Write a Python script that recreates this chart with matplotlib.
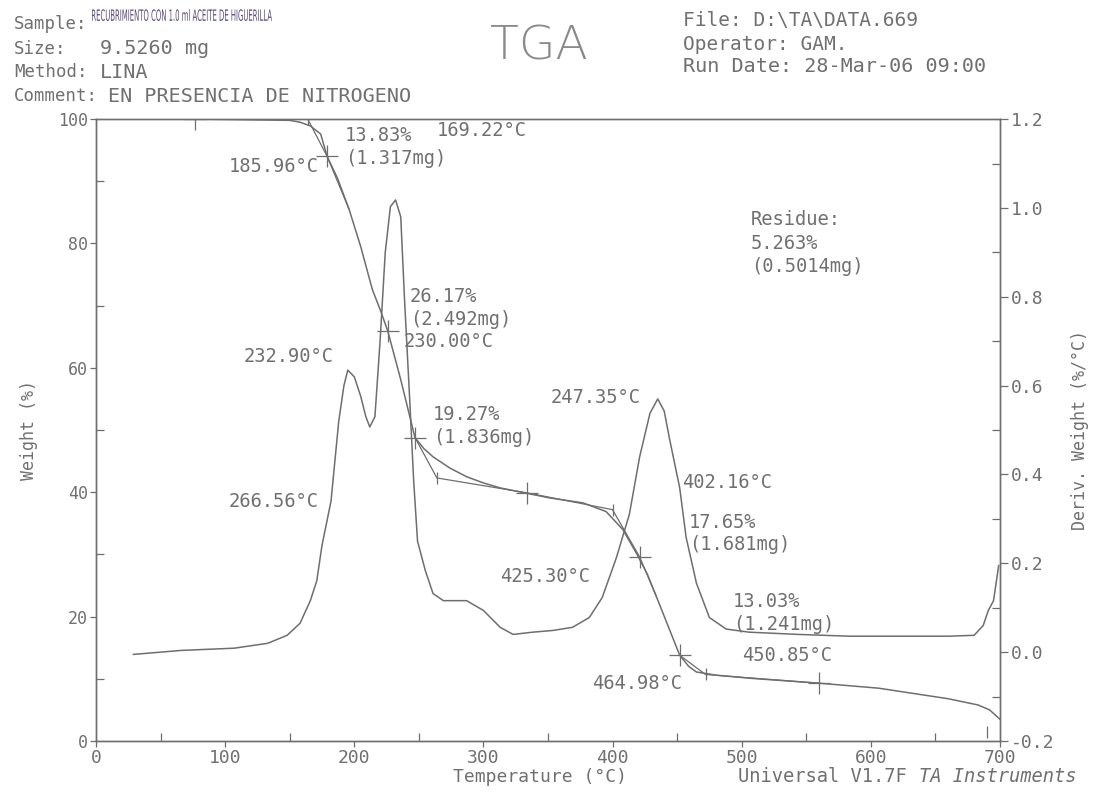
import matplotlib
matplotlib.use("Agg")
import matplotlib.pyplot as plt
from matplotlib.ticker import MultipleLocator, FormatStrFormatter
from matplotlib.textpath import TextPath
from matplotlib.font_manager import FontProperties
from matplotlib.patches import PathPatch
from matplotlib.transforms import Affine2D

# -----------------------------------
# data
# -----------------------------------
temp_w = [30, 81, 150, 158, 166, 174, 179, 187, 196, 205, 214, 220, 226, 236,
          247, 254, 261, 274, 287, 300, 313, 332, 351, 377, 395, 408, 419, 427,
          434, 443, 452, 459, 465, 480, 506, 560, 606, 660, 683, 692, 700]
weight = [100.0, 100.0, 99.8, 99.5, 98.9, 97.6, 94.0, 90.5, 85.5, 79.5, 72.6,
          69.4, 65.9, 58.1, 48.8, 47.0, 45.7, 43.9, 42.5, 41.5, 40.7, 39.9,
          39.1, 38.3, 36.9, 34.0, 30.0, 26.8, 23.2, 18.5, 13.8, 12.0, 11.1,
          10.6, 10.1, 9.3, 8.5, 6.8, 5.8, 5.0, 3.5]

temp_d = [29, 66, 107, 133, 148, 158, 166, 171, 175, 182, 188, 192, 195, 200,
          205, 209, 212, 216, 220, 224, 228, 232, 236, 239, 243, 246, 249, 255,
          261, 269, 278, 287, 300, 313, 323, 338, 354, 369, 382, 392, 403, 413,
          421, 429, 435, 440, 444, 452, 457, 465, 475, 488, 506, 544, 583, 622,
          660, 680, 687, 691, 695, 699]
deriv = [-0.005, 0.004, 0.009, 0.020, 0.038, 0.065, 0.116, 0.161, 0.24, 0.34,
         0.52, 0.60, 0.635, 0.62, 0.576, 0.53, 0.507, 0.53, 0.70, 0.90, 1.003,
         1.018, 0.98, 0.79, 0.565, 0.386, 0.25, 0.184, 0.132, 0.116, 0.116,
         0.116, 0.094, 0.056, 0.040, 0.045, 0.049, 0.056, 0.078, 0.123, 0.213,
         0.31, 0.44, 0.538, 0.57, 0.543, 0.482, 0.37, 0.258, 0.155, 0.078,
         0.052, 0.045, 0.040, 0.036, 0.036, 0.036, 0.038, 0.060, 0.094, 0.116,
         0.195]

# onset construction (tangent) lines: (T, weight) pairs
tangents = [
    [(77, 100), (164, 100), (179, 94.0), (196, 85.5)],
    [(247, 48.8), (264, 42.3), (334, 39.9)],
    [(334, 39.9), (400, 37.2), (421, 29.6), (434, 23.2)],
    [(452, 13.8), (472, 10.7), (560, 9.3)],
]
tick_ends = [(164, 100), (264, 42.3), (400, 37.2), (472, 10.7), (690, 1.5)]
crosses = [(77, 100), (179, 94.0), (226, 65.9), (247, 48.8), (334, 39.9),
           (421, 29.6), (452, 13.8), (560, 9.3)]

# annotation strings and positions (T, weight-axis)
labels = [
    ("13.83%", 193, 97.3), ("(1.317mg)", 193, 93.6), ("169.22°C", 264, 98.2),
    ("185.96°C", 103, 92.4), ("26.17%", 243, 71.5), ("(2.492mg)", 243, 67.8),
    ("230.00°C", 238, 64.3), ("232.90°C", 114, 61.8), ("19.27%", 261, 52.5),
    ("(1.836mg)", 261, 48.8), ("247.35°C", 352, 55.2), ("266.56°C", 103, 38.5),
    ("402.16°C", 454, 41.5), ("17.65%", 459, 35.1), ("(1.681mg)", 459, 31.6),
    ("425.30°C", 313, 26.4), ("13.03%", 493, 22.4), ("(1.241mg)", 493, 18.8),
    ("450.85°C", 500, 13.8), ("464.98°C", 384, 9.2),
    ("Residue:", 507, 83.9), ("5.263%", 507, 80.0), ("(0.5014mg)", 507, 76.3),
]

GRAY = "#6e6e6e"
TXT = "#707070"
MONO = "DejaVu Sans Mono"
W, H = 1103, 794

fig = plt.figure(figsize=(11.03, 7.94), dpi=100)
ax = fig.add_axes([0.087, 0.0667, 0.8196, 0.7833])
ax2 = ax.twinx()

ax.plot(temp_w, weight, color=GRAY, lw=1.1)
ax2.plot(temp_d, deriv, color=GRAY, lw=1.1)

for seg in tangents:
    xs, ys = zip(*seg)
    ax.plot(xs, ys, color=GRAY, lw=0.9)
ax.plot(*zip(*crosses), ls="none", marker="+", ms=16, mew=0.9, color=GRAY)
ax.plot(*zip(*tick_ends), ls="none", marker="|", ms=9, mew=0.9, color=GRAY)

for s, x, y in labels:
    ax.text(x, y, s, fontsize=13.5, family=MONO, color=TXT, ha="left", va="center")

# axes
ax.set_xlim(0, 700)
ax.set_ylim(0, 100)
ax2.set_ylim(-0.2, 1.2)
ax.xaxis.set_major_locator(MultipleLocator(100))
ax.xaxis.set_minor_locator(MultipleLocator(50))
ax.yaxis.set_major_locator(MultipleLocator(20))
ax.yaxis.set_minor_locator(MultipleLocator(10))
ax2.yaxis.set_major_locator(MultipleLocator(0.2))
ax2.yaxis.set_minor_locator(MultipleLocator(0.1))
ax2.yaxis.set_major_formatter(FormatStrFormatter("%.1f"))

for a in (ax, ax2):
    for sp in a.spines.values():
        sp.set_color(GRAY)
        sp.set_linewidth(1.0)
    a.tick_params(which="major", direction="out", length=6, width=0.9, pad=2,
                  colors=GRAY, labelcolor=TXT, labelsize=13)
    a.tick_params(which="minor", direction="in", length=6, width=0.9, colors=GRAY)
    for lab in a.get_xticklabels() + a.get_yticklabels():
        lab.set_family(MONO)
ax.tick_params(axis="x", which="major", length=4, pad=2)
ax.tick_params(axis="y", which="major", length=4, pad=2, labelsize=12)

ax.set_ylabel("Weight (%)", family=MONO, fontsize=12, color=TXT, labelpad=14)
ax2.set_ylabel("Deriv. Weight (%/°C)", family=MONO, fontsize=12, color=TXT,
               labelpad=12)


# header / footer text placed by pixel position
def ftext(px, py, s, **kw):
    kw.setdefault("family", MONO)
    kw.setdefault("fontsize", 14)
    kw.setdefault("color", TXT)
    kw.setdefault("ha", "left")
    fig.text(px / W, 1 - py / H, s, va="center", **kw)


ftext(14, 24, "Sample:", fontsize=12.5)
ftext(14, 49, "Size:", fontsize=12.5)
ftext(100, 49, "9.5260 mg", fontsize=14.5)
ftext(14, 72, "Method:", fontsize=12.5)
ftext(100, 72, "LINA", fontsize=14.5)
ftext(14, 96, "Comment:", fontsize=12.5)
ftext(108, 96, "EN PRESENCIA DE NITROGENO", fontsize=14.5)
ftext(490, 46, "TGA", family="DejaVu Sans", fontsize=34, color="#8a8a8a",
      fontweight="light")
ftext(683, 21, "File: D:\\TA\\DATA.669")
ftext(683, 44, "Operator: GAM.")
ftext(683, 67, "Run Date: 28-Mar-06 09:00", fontsize=14.5)
ftext(540, 777, "Temperature (°C)", fontsize=13, ha="center")
ftext(738, 777, "Universal V1.7F", fontsize=13.5)
ftext(919, 777, "TA Instruments", fontsize=13.5, style="italic")

# the tiny condensed sample name, squeezed into its box
sample_name = "RECUBRIMIENTO CON 1.0 ml ACEITE DE HIGUERILLA"
tp = TextPath((0, 0), sample_name, size=10, prop=FontProperties(family="DejaVu Sans"))
ext = tp.get_extents()
box_x0, box_x1, box_ytop, box_ybot = 92, 272, 9, 21
sx = (box_x1 - box_x0) / ext.width
sy = (box_ybot - box_ytop) / ext.height
trans = (Affine2D().translate(-ext.x0, -ext.y0).scale(sx, sy)
         .translate(box_x0, H - box_ybot))
fig.add_artist(PathPatch(tp, transform=trans, facecolor="#5a4a7a",
                         edgecolor="none"))

fig.savefig("out.png", dpi=100, facecolor="white")
